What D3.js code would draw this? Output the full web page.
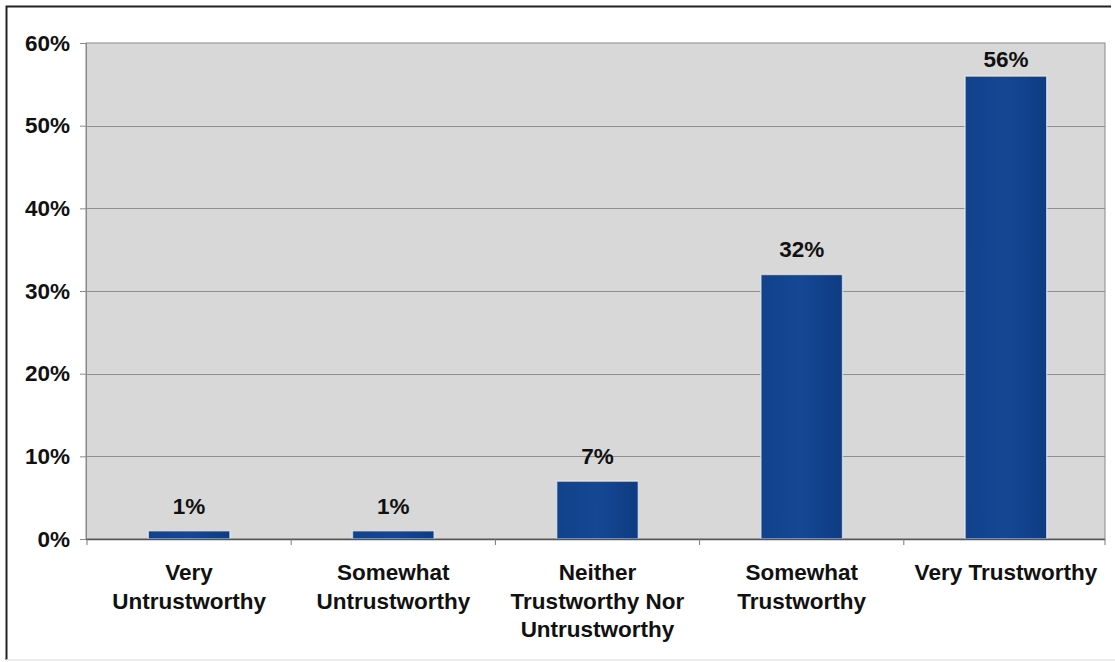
<!DOCTYPE html>
<html>
<head>
<meta charset="utf-8">
<script src="https://cdn.jsdelivr.net/npm/d3@7"></script>
<style>
  html, body { margin: 0; padding: 0; background: #ffffff; }
  svg { display: block; }
  text { font-family: "Liberation Sans", Arial, sans-serif; font-weight: bold; fill: #111; }
</style>
</head>
<body>
<svg id="chart" width="1115" height="662"></svg>
<script>
// Survey responses: perceived trustworthiness
const categories = [
  ["Very", "Untrustworthy"],
  ["Somewhat", "Untrustworthy"],
  ["Neither", "Trustworthy Nor", "Untrustworthy"],
  ["Somewhat", "Trustworthy"],
  ["Very Trustworthy"]
];
const values = [1, 1, 7, 32, 56];
const yTicks = [0, 10, 20, 30, 40, 50, 60];

const svg = d3.select("#chart");
const W = 1115, H = 662;
const plot = { left: 86, top: 43, right: 1105, bottom: 539 };
const FONT = "22.5px";

// outer frame
svg.append("rect").attr("x", 0).attr("y", 0).attr("width", W).attr("height", H).attr("fill", "#fff");
svg.append("path")
  .attr("d", `M6.5,660 L6.5,6.5 L1111,6.5`)
  .attr("fill", "none").attr("stroke", "#222").attr("stroke-width", 2);
svg.append("line").attr("x1", 6).attr("x2", 1115).attr("y1", 660).attr("y2", 660)
  .attr("stroke", "#e4e4e4").attr("stroke-width", 1.5);

const keys = categories.map((c, i) => i);
const x = d3.scaleBand().domain(keys).range([plot.left + 1, plot.right + 3]).paddingInner(0.6).paddingOuter(0.3);
const xOuter = d3.scaleBand().domain(keys).range([plot.left + 1, plot.right + 3]);
const y = d3.scaleLinear().domain([0, 60]).range([plot.bottom, plot.top]);

// plot area
svg.append("rect")
  .attr("x", plot.left).attr("y", plot.top)
  .attr("width", plot.right - plot.left).attr("height", plot.bottom - plot.top)
  .attr("fill", "#d8d8d8").attr("stroke", "#8a8a8a").attr("stroke-width", 1);

// gridlines
svg.append("g").selectAll("line").data(yTicks.filter(t => t > 0 && t < 60)).join("line")
  .attr("x1", plot.left).attr("x2", plot.right)
  .attr("y1", d => Math.round(y(d)) + 0.5).attr("y2", d => Math.round(y(d)) + 0.5)
  .attr("stroke", "#8f8f8f").attr("stroke-width", 1);

// y axis
const yAxis = d3.axisLeft(y).tickValues(yTicks).tickFormat(d => d + "%").tickSize(6).tickPadding(10);
const gy = svg.append("g").attr("transform", `translate(${plot.left},0)`).call(yAxis);
gy.select(".domain").attr("stroke", "#888");
gy.selectAll(".tick line").attr("stroke", "#888");
gy.selectAll(".tick text").style("font-size", FONT).attr("fill", "#111")
  .style("font-family", "'Liberation Sans', Arial, sans-serif").style("font-weight", "bold");

// bars
const defs = svg.append("defs");
const grad = defs.append("linearGradient").attr("id", "barFill").attr("x1", 0).attr("x2", 1).attr("y1", 0).attr("y2", 0);
grad.append("stop").attr("offset", "0%").attr("stop-color", "#11428a");
grad.append("stop").attr("offset", "50%").attr("stop-color", "#154794");
grad.append("stop").attr("offset", "100%").attr("stop-color", "#0e3c82");

svg.append("g").selectAll("rect").data(values).join("rect")
  .attr("x", (d, i) => x(i)).attr("width", x.bandwidth())
  .attr("y", d => y(d)).attr("height", d => y(0) - y(d))
  .attr("fill", "url(#barFill)")
  .attr("stroke", "#e8eef6").attr("stroke-width", 1.5).attr("stroke-opacity", 0.7);

// x axis line and tick marks
svg.append("line").attr("x1", plot.left).attr("x2", plot.right)
  .attr("y1", plot.bottom + 0.5).attr("y2", plot.bottom + 0.5)
  .attr("stroke", "#555").attr("stroke-width", 1.5);
const edges = keys.map(k => xOuter(k)).concat([plot.right]);
svg.append("g").selectAll("line").data(edges).join("line")
  .attr("x1", d => d).attr("x2", d => d)
  .attr("y1", plot.bottom).attr("y2", plot.bottom + 6)
  .attr("stroke", "#777");

// value labels
svg.append("g").selectAll("text").data(values).join("text")
  .attr("x", (d, i) => x(i) + x.bandwidth() / 2)
  .attr("y", d => Math.max(y(d) - 17, plot.top + 24))
  .attr("text-anchor", "middle")
  .style("font-size", FONT)
  .text(d => d + "%");

// category labels
const cat = svg.append("g").selectAll("text").data(categories).join("text")
  .attr("x", (d, i) => xOuter(i) + xOuter.bandwidth() / 2)
  .attr("y", 580)
  .attr("text-anchor", "middle")
  .style("font-size", FONT);
cat.selectAll("tspan").data(d => d).join("tspan")
  .attr("x", function () { return d3.select(this.parentNode).attr("x"); })
  .attr("dy", (d, j) => j === 0 ? 0 : 28.5)
  .text(d => d);
</script>
</body>
</html>
